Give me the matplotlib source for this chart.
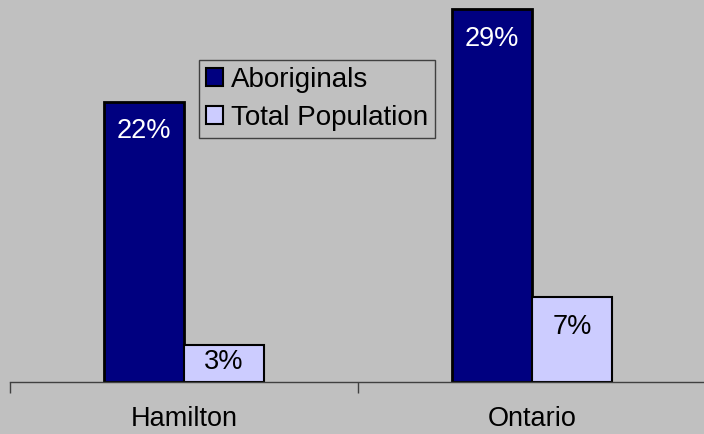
import matplotlib
matplotlib.use("Agg")
import matplotlib.pyplot as plt
from matplotlib.patches import Patch
import numpy as np

categories = ["Hamilton", "Ontario"]
aboriginals = [21.8, 29.0]
total_population = [2.9, 6.6]
aboriginal_labels = ["22%", "29%"]
total_labels = ["3%", "7%"]
series_names = ["Aboriginals", "Total Population"]

plt.rcParams['font.family'] = ['Liberation Sans', 'DejaVu Sans']

W, H = 704, 434
fig = plt.figure(figsize=(W / 100, H / 100), dpi=100, facecolor="#C0C0C0")
ax = fig.add_axes([10 / W, 1 - 382 / H, 696 / W, 382 / H])
ax.set_facecolor("#C0C0C0")

x = np.arange(len(categories))
bw = 0.229
dark = "#000080"
light = "#CCCCFF"
b1 = ax.bar(x - bw / 2, aboriginals, bw, color=dark, edgecolor="black", linewidth=2)
b2 = ax.bar(x + bw / 2, total_population, bw, color=light, edgecolor="black", linewidth=1.5)

ax.set_xlim(-0.5, 1.5)
ax.set_ylim(0, 29.7)

def label(bars, labels, color):
    for rect, lab in zip(bars, labels):
        h = rect.get_height()
        off = -3 if h < 4 else -12
        ax.annotate(lab, (rect.get_x() + rect.get_width() / 2, h),
                    xytext=(0, off), textcoords="offset points",
                    ha="center", va="top", color=color, fontsize=19.5)

label(b1, aboriginal_labels, "white")
label(b2, total_labels, "black")

for s in ["left", "right", "top"]:
    ax.spines[s].set_visible(False)
ax.spines["bottom"].set_color("#404040")
ax.spines["bottom"].set_linewidth(1)
ax.set_yticks([])
ax.set_xticks(x)
ax.set_xticklabels(categories, fontsize=19.5)
ax.tick_params(axis="x", which="major", length=0, pad=17)
ax.set_xticks([-0.5, 0.5, 1.5], minor=True)
ax.tick_params(axis="x", which="minor", length=8, color="#404040", width=1)

handles = [Patch(facecolor=dark, edgecolor="black", linewidth=1.5),
           Patch(facecolor=light, edgecolor="black", linewidth=1.5)]
leg = fig.legend(handles, series_names, loc="upper left",
                 bbox_to_anchor=(199 / W, 1 - 60 / H), fontsize=20,
                 frameon=True, fancybox=False, framealpha=1,
                 facecolor="#C0C0C0", edgecolor="#404040",
                 handlelength=0.6, handleheight=0.6, handletextpad=0.3,
                 borderpad=0.25, labelspacing=0.42, borderaxespad=0)
leg.get_frame().set_linewidth(1)

fig.savefig("out.png", dpi=100, facecolor=fig.get_facecolor())
